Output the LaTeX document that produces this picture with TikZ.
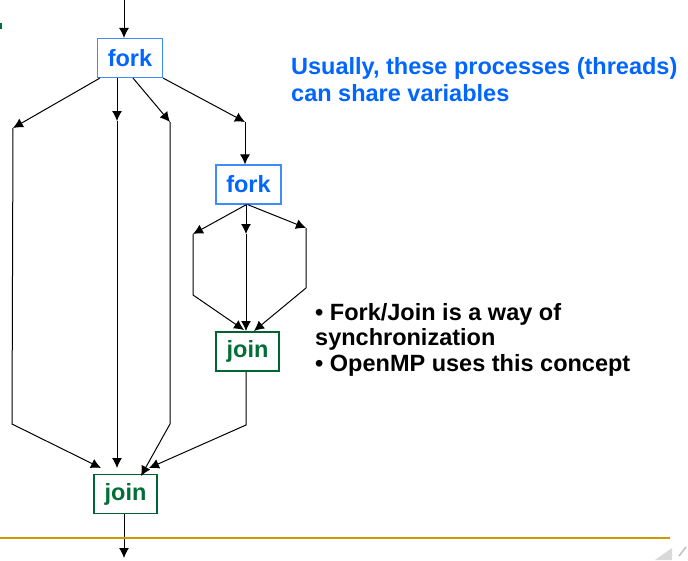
\documentclass[tikz,border=0pt]{standalone}
\usepackage{fontspec}
\setmainfont{Liberation Sans}
\usetikzlibrary{arrows.meta,calc}
\definecolor{forkblue}{RGB}{0,102,255}
\definecolor{forkedge}{RGB}{60,140,255}
\definecolor{joingreen}{RGB}{0,110,55}
\definecolor{joinedge}{RGB}{0,100,50}
\definecolor{gold}{RGB}{204,153,0}
\tikzset{
  forkbox/.style={draw=forkedge, line width=1.1pt, minimum width=65pt, minimum height=39pt, inner sep=0pt,
    text=forkblue, font=\bfseries\fontsize{23.5}{27}\selectfont},
  joinbox/.style={draw=joinedge, line width=1.1pt, minimum width=63pt, minimum height=39pt, inner sep=0pt,
    text=joingreen, font=\bfseries\fontsize{23.5}{27}\selectfont},
  conn/.style={line width=1pt, black},
  arr/.style={conn, -{Latex[length=10pt,width=10pt]}},
  note/.style={inner sep=0pt, align=left, anchor=north west},
}
\begin{document}
\begin{tikzpicture}[x=1pt,y=-1pt]
\useasboundingbox (0,0) rectangle (688,560);
\fill[white] (0,0) rectangle (688,560);

% boxes
\node[forkbox] (fork1) at (130,58) {fork};
\node[forkbox] (fork2) at (248.5,184.5) {fork};
\node[joinbox] (join1) at (247.5,351.5) {join};
\node[joinbox] (join2) at (125.5,494) {join};

% coordinates
\coordinate (top) at (124,0);
\coordinate (bot) at (124,558);
\coordinate (l1) at (13,128);
\coordinate (l2) at (12,424);
\coordinate (m1) at (117,121);
\coordinate (m2) at (117,468);
\coordinate (r1) at (170,122);
\coordinate (r2) at (170,424);
\coordinate (r3) at (141,476);
\coordinate (q1) at (245,122);
\coordinate (a1) at (101,468);
\coordinate (b1) at (149,468);
\coordinate (f2l) at (193,234);
\coordinate (f2l2) at (193,295);
\coordinate (f2la) at (244,330);
\coordinate (f2m) at (246,234);
\coordinate (f2ma) at (246,331);
\coordinate (f2r) at (306,228);
\coordinate (f2r2) at (306,288);
\coordinate (f2ra) at (254,331);
\coordinate (j1b) at (246,425);

% connectors
\draw[arr] (top) -- (top |- fork1.north);
\draw[arr] ([xshift=3pt]fork1.south west) -- (l1);
\draw[arr] (l1) -- (l2) -- (a1);
\draw[arr] (m1 |- fork1.south) -- (m1);
\draw[arr] (m1) -- (m2);
\draw[arr] ([xshift=3pt]fork1.south) -- (r1);
\draw[arr] (r1) -- (r2) -- (r3);
\draw[arr] (fork1.south east) -- (q1);
\draw[arr] (q1) -- (q1 |- fork2.north);

\draw[arr] ([xshift=-2pt]fork2.south) -- (f2l);
\draw[arr] (f2l) -- (f2l2) -- (f2la);
\draw[arr] (f2m |- fork2.south) -- (f2m);
\draw[arr] (f2m) -- (f2ma);
\draw[arr] ([xshift=-1pt]fork2.south) -- (f2r);
\draw[arr] (f2r) -- (f2r2) -- (f2ra);

\draw[arr] (j1b |- join1.south) -- (j1b) -- (b1);
\draw[arr] (bot |- join2.south) -- (bot);

% rule
\draw[gold, line width=2pt] (0,538) -- (670,538);

% texts
\node[note, text=forkblue, font=\bfseries\fontsize{23.5}{27.3}\selectfont] (t1) at (291,57)
  {Usually, these processes (threads)\\can share variables};
\node[note, text=black, font=\bfseries\fontsize{23.5}{25.5}\selectfont] (t2) at (315,303)
  {\textbullet\ Fork/Join is a way of\\synchronization\\\textbullet\ OpenMP uses this concept};

% corner decoration
\fill[black!15] (655,560) -- (672,548) -- (672,560) -- cycle;
\draw[black!25, line width=1.5pt] (679,556) -- (686,547);
\fill[joingreen] (0,23) rectangle (1.5,29);
\end{tikzpicture}
\end{document}
